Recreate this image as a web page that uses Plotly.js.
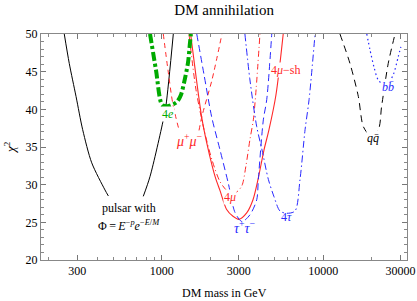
<!DOCTYPE html>
<html>
<head>
<meta charset="utf-8">
<script src="https://cdn.plot.ly/plotly-3.0.1.min.js"></script>
<style>html,body{margin:0;padding:0;background:#fff;}#chart{width:417px;height:301px;}</style>
</head>
<body>
<div id="chart"></div>
<script>
// ---- data (DM mass in GeV, chi^2) ----
const pulsarMass = [249.5, 267.9, 295.1, 324.3, 369.0, 445.7, 467.7, null, 769.1, 847.2, 1023, 1064, 1180];
const pulsarChi2 = [50, 46.1, 41.7, 37.3, 32.9, 29.3, 28.5, null, 28.45, 31.1, 38.6, 40.6, 50];

const e4Mass = [847, 922, 1005, 1079, 1159, 1245, 1315, 1374, 1455, 1496, 1517];
const e4Chi2 = [50, 45.2, 40.6, 40.4, 40.6, 41.0, 41.9, 43.5, 46.2, 48.8, 50];

const mumuMass = [1023, 1094, 1175, 1279, null, 1702, 1775, 2047, 2360];
const mumuChi2 = [50, 45.2, 40.6, 37.3, null, 37.2, 39.1, 43.9, 50];

const mu4shMass = [1510, 1630, 1770, 1897, 2047, 2153, 2296, 2523, 2761, 3006, 3357, 3673, 3945, 4295, 4613, 5093, 5649];
const mu4shChi2 = [50, 44.4, 38.9, 35.6, 32.6, 30.9, 29.2, 26.7, 25.8, 25.4, 26.25, 28.0, 30.7, 34.6, 37.3, 41.9, 50];

const mu4Mass = [1476, 1630, 1828, 2047, 2296, 2570, 2844, 3126, 3327, 3516, 3690, 3837, 4055];
const mu4Chi2 = [50, 42.6, 37.3, 33.3, 30.4, 29.1, 28.9, 29.8, 32.6, 36.0, 38.6, 42.6, 50];

const tautauMass = [1648, 1828, 2038, 2296, 2582, 2844, 3141, 3516, 3873, 3963, 4256, 4467, 4797];
const tautauChi2 = [50, 44.6, 39.0, 34.6, 30.2, 26.3, 25.1, 26.0, 28.0, 30.7, 38.6, 41.3, 50];

const tau4Mass = [3273, 3516, 3873, 4178, 4571, 4955, 5395, 5957, 6683, 7178, 7713, 8167, 8892];
const tau4Chi2 = [50, 43.9, 37.7, 34.6, 30.7, 28.4, 26.5, 26.2, 26.5, 30.7, 37.3, 41.3, 50];

const qqMass = [12680, 14620, 16480, 17700, 19450, 21880, 22960, 25230, 27800];
const qqChi2 = [50, 46.1, 41.7, 37.7, 36.6, 37.3, 40.4, 46.1, 50];

const bbMass = [18580, 19450, 20600, 21880, 24430, 27100, 29110, 30200];
const bbChi2 = [50, 47.9, 45.6, 43.9, 43.1, 44.6, 47.0, 48.3];

const xTickVals = [300, 1000, 3000, 10000, 30000];
const xTickText = ['300', '1000', '3000', '10000', '30000'];
const xMinor = [200, 400, 500, 600, 700, 800, 900, 2000, 4000, 5000, 6000, 7000, 8000, 9000, 20000];
const yTickVals = [20, 25, 30, 35, 40, 45, 50];

// ---- styles ----
const RED = 'rgb(255,40,40)', BLUE = 'rgb(40,40,255)', GREEN = 'rgb(0,170,0)', BLACK = '#000';
const SERIF = 'Liberation Serif, Times New Roman, serif';

function tr(x, y, color, width, dash) {
  return {x: x, y: y, type: 'scatter', mode: 'lines', connectgaps: false, hoverinfo: 'skip',
    line: {color: color, width: width, dash: dash, shape: 'spline', smoothing: 0.8}};
}

const traces = [
  tr(pulsarMass, pulsarChi2, BLACK, 1, 'solid'),
  tr(mumuMass, mumuChi2, RED, 1, '5px,4px'),
  tr(mu4shMass, mu4shChi2, RED, 1.1, 'solid'),
  tr(mu4Mass, mu4Chi2, RED, 1, '6px,3px,1px,3px'),
  tr(tautauMass, tautauChi2, BLUE, 1, '7px,4px'),
  tr(tau4Mass, tau4Chi2, BLUE, 1, '7px,3px,1.5px,3px'),
  tr(qqMass, qqChi2, BLACK, 1, '7px,5px'),
  tr(bbMass, bbChi2, BLUE, 1.2, '1.5px,3px'),
  tr(e4Mass, e4Chi2, GREEN, 4, '9px,3px,3px,3px')
];

function lab(m, c, text, color, bg, size) {
  return {x: Math.log10(m), y: c, xref: 'x', yref: 'y', text: text, showarrow: false,
    font: {family: SERIF, size: size || 12, color: color}, bgcolor: bg ? 'white' : 'rgba(0,0,0,0)', borderpad: 0};
}

const annotations = [
  lab(628, 26.95, 'pulsar with', BLACK, false, 12),
  lab(628, 24.57, 'Φ\u2009=\u2009<i>E</i><sup>−<i>p</i></sup><i>e</i><sup>−<i>E</i>/<i>M</i></sup>', BLACK, false, 12),
  lab(1094, 39.4, '4<i>e</i>', GREEN, true),
  lab(1476, 35.9, '<i>μ</i><sup>+</sup><i>μ</i><sup>−</sup>', RED, false, 14),
  lab(5800, 45.2, '4<i>μ</i>−sh', RED, true),
  lab(2650, 28.3, '4<i>μ</i>', RED, true),
  lab(3270, 24.4, '<i>τ</i><sup>+</sup><i>τ</i><sup>−</sup>', BLUE, false, 14),
  lab(5960, 25.7, '4<i>τ</i>', BLUE, false),
  lab(20300, 36.2, '<i>q</i><i>q̄</i>', BLACK, true),
  lab(25100, 43.0, '<i>b</i><i>b̄</i>', BLUE, true),
  // axis titles
  {x: 0.5, y: -0.146, xref: 'paper', yref: 'paper', text: 'DM mass in GeV', showarrow: false,
   xanchor: 'center', yanchor: 'middle', font: {family: SERIF, size: 12, color: '#000'}},
  {x: -0.085, y: 0.5, xref: 'paper', yref: 'paper', text: '<i>χ</i><sup>2</sup>', showarrow: false,
   textangle: -90, xanchor: 'center', yanchor: 'middle', font: {family: SERIF, size: 13, color: '#000'}}
];

const axisCommon = {
  ticks: 'inside', ticklen: 5, tickwidth: 1, tickcolor: '#777',
  showline: true, linecolor: '#888', linewidth: 1, mirror: 'ticks',
  showgrid: false, zeroline: false,
  tickfont: {family: SERIF, size: 12, color: '#000'}
};

const layout = {
  width: 417, height: 301,
  margin: {l: 41, r: 10, t: 34, b: 41},
  paper_bgcolor: 'white', plot_bgcolor: 'white',
  showlegend: false,
  title: {text: 'DM annihilation', font: {family: SERIF, size: 15, color: '#000'},
          x: 0.5375, xanchor: 'center', y: 0.968, yanchor: 'middle'},
  xaxis: Object.assign({}, axisCommon, {
    type: 'log', range: [2.2531, 4.518],
    tickmode: 'array', tickvals: xTickVals, ticktext: xTickText,
    minor: {tickmode: 'array', tickvals: xMinor, ticks: 'inside', ticklen: 3, tickcolor: '#888', showgrid: false}
  }),
  yaxis: Object.assign({}, axisCommon, {
    range: [20, 50], tickmode: 'array', tickvals: yTickVals,
    minor: {dtick: 1, ticks: 'inside', ticklen: 3, tickcolor: '#888', showgrid: false}
  }),
  annotations: annotations
};

Plotly.newPlot('chart', traces, layout, {staticPlot: true, displayModeBar: false});
</script>
</body>
</html>
